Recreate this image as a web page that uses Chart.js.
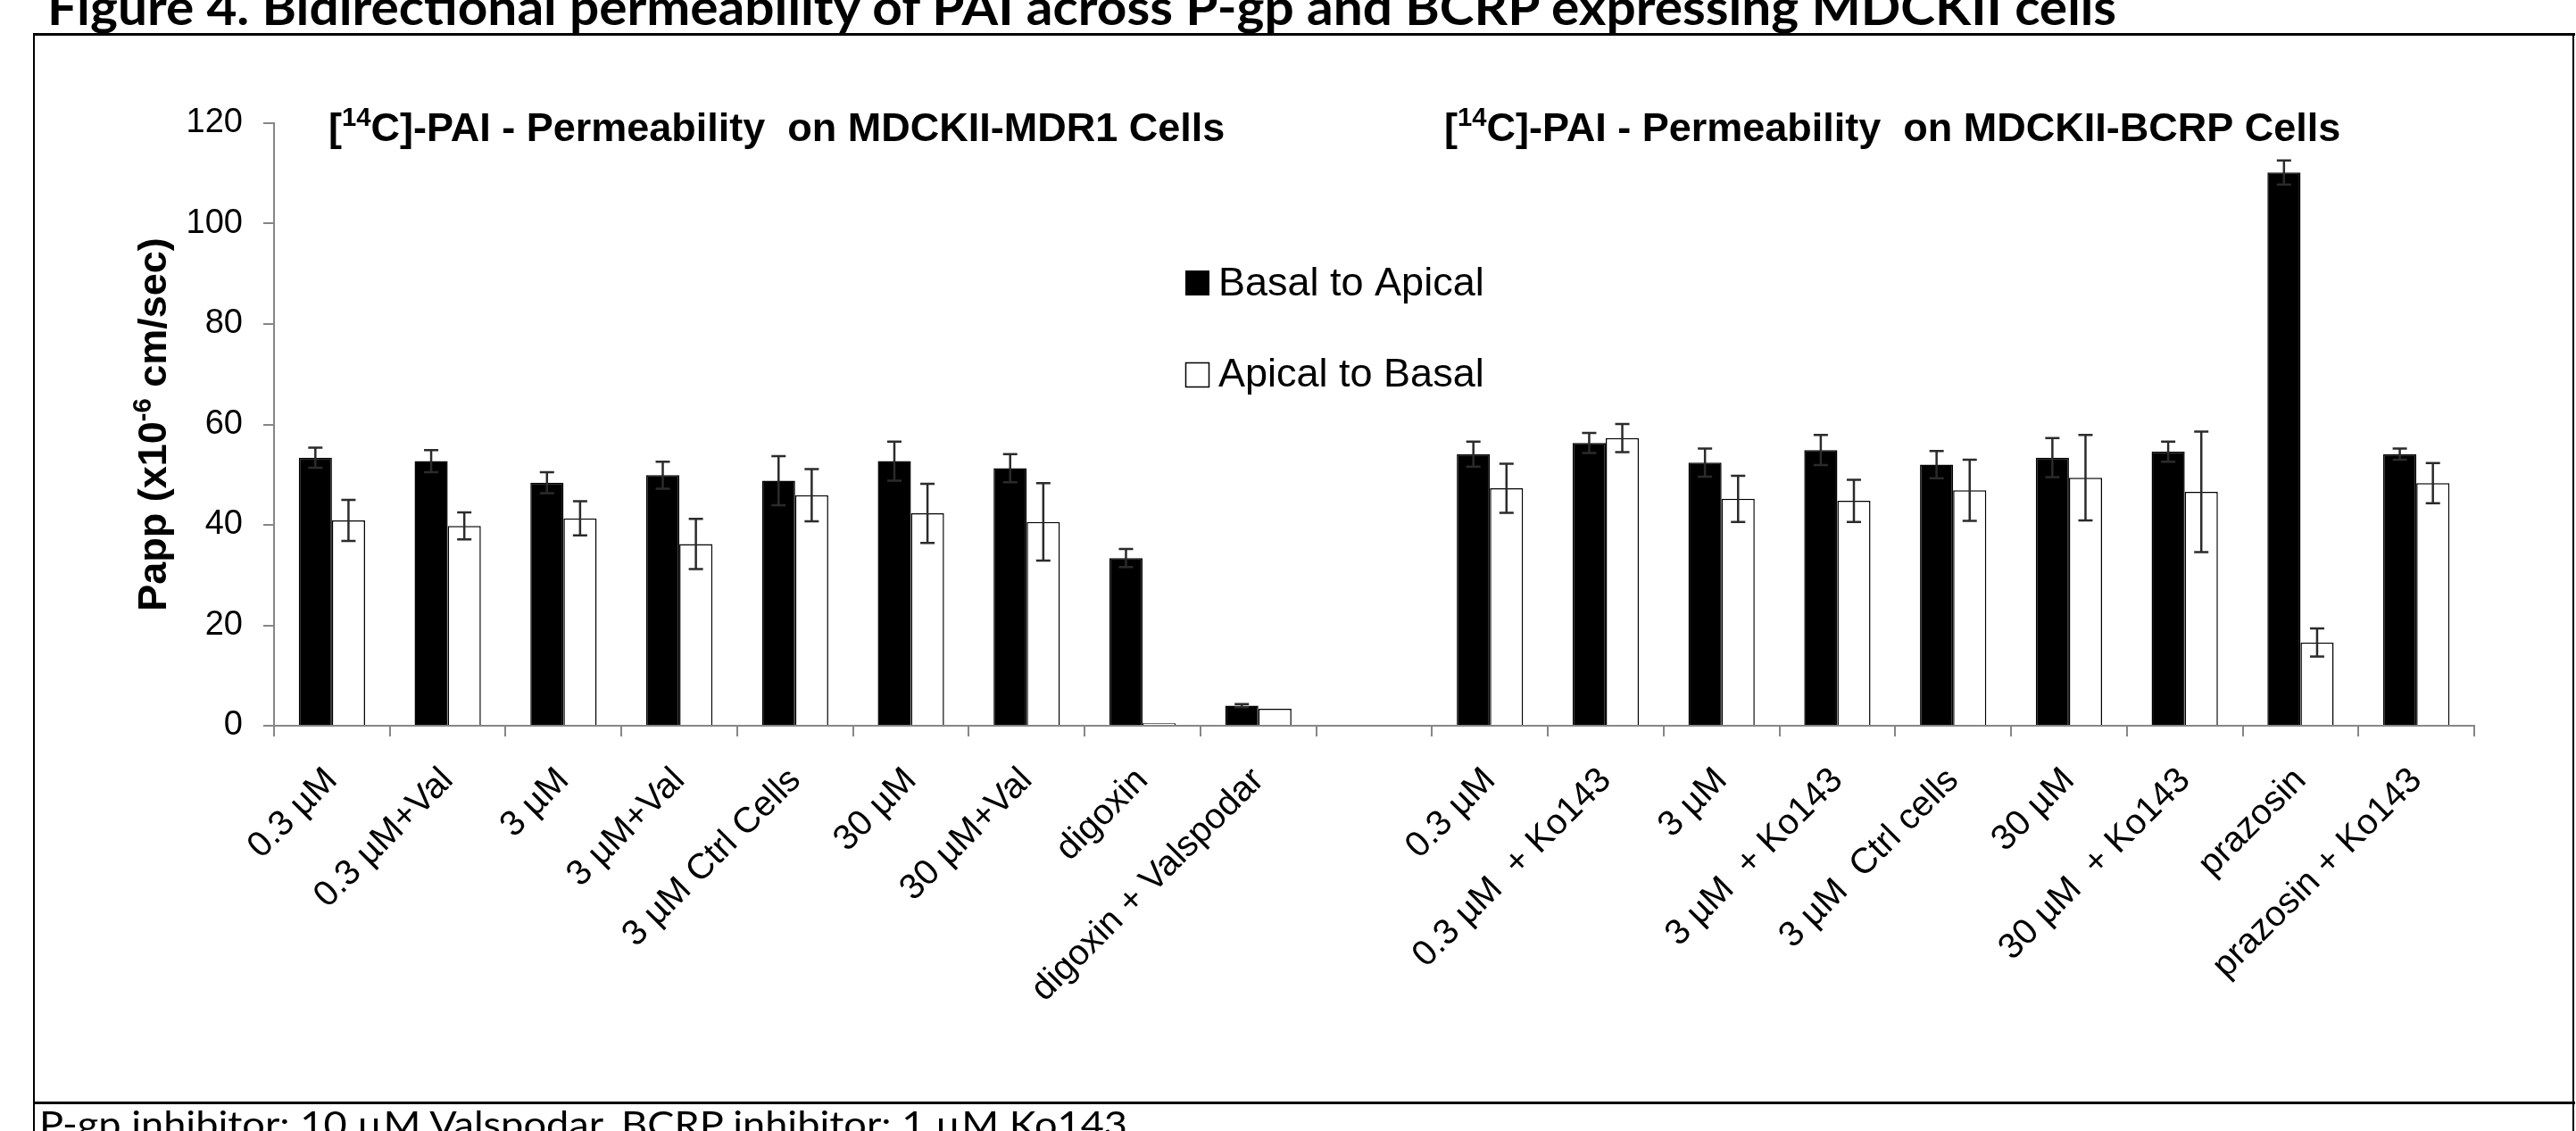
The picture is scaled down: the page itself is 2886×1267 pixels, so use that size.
<!DOCTYPE html>
<html>
<head>
<meta charset="utf-8">
<script src="https://cdn.jsdelivr.net/npm/chart.js@4.4.1/dist/chart.umd.min.js"></script>
<style>
html,body{margin:0;padding:0;background:#fff;}
#wrap{position:relative;width:2886px;height:1267px;overflow:hidden;background:#fff;}
#c{position:absolute;left:0;top:0;}
.ln{position:absolute;background:#000;}
.txt{position:absolute;white-space:pre;transform-origin:0 0;color:#000;line-height:normal;}
#title{font-family:Lato,"Open Sans",sans-serif;font-weight:bold;font-size:56px;}
#foot{font-family:Lato,"Open Sans",sans-serif;font-weight:normal;font-size:41px;}
.probe{display:inline-block;width:0;height:0;vertical-align:baseline;}
</style>
</head>
<body>
<div id="wrap">
  <canvas id="c" width="2886" height="1267"></canvas>
  <div class="ln" style="left:37px;top:37px;width:2848px;height:3px"></div>
  <div class="ln" style="left:37px;top:37px;width:2px;height:1230px"></div>
  <div class="ln" style="left:2882px;top:37px;width:2px;height:1230px"></div>
  <div class="ln" style="left:37px;top:1234px;width:2848px;height:3px"></div>
  <div id="title" class="txt"><span id="titleText">Figure 4. Bidirectional permeability of PAI across P-gp and BCRP expressing MDCKII cells</span><span class="probe" id="titleProbe"></span></div>
  <div id="foot" class="txt"><span id="footText">P-gp inhibitor: 10 µM Valspodar, BCRP inhibitor: 1 µM Ko143</span><span class="probe" id="footProbe"></span></div>
</div>
<script>
// ---- data ----
const categories = ["0.3 µM","0.3 µM+Val","3 µM","3 µM+Val","3 µM Ctrl Cells","30 µM","30 µM+Val","digoxin","digoxin + Valspodar","",
  "0.3 µM","0.3 µM  + Ko143","3 µM","3 µM  + Ko143","3 µM  Ctrl cells","30 µM","30 µM  + Ko143","prazosin","prazosin + Ko143"];
const basalToApical    = [53.4,52.7,48.4,49.9,48.8,52.7,51.3,33.4,4.0,null,54.1,56.3,52.4,54.9,52.0,53.4,54.6,110.2,54.1];
const basalToApicalErr = [2.0,2.2,2.1,2.7,4.9,3.9,2.8,1.8,0.3,null,2.5,2.0,2.8,3.0,2.7,3.9,2.0,2.4,1.1];
const apicalToBasal    = [40.9,39.8,41.3,36.2,45.9,42.3,40.6,0.5,3.4,null,47.3,57.3,45.2,44.8,46.9,49.4,46.6,16.6,48.3];
const apicalToBasalErr = [4.1,2.7,3.4,5.0,5.2,5.9,7.7,0,0,null,4.9,2.8,4.6,4.2,6.1,8.5,12.0,2.8,4.0];
const yTicks = [0,20,40,60,80,100,120];
const seriesNames = ["Basal to Apical","Apical to Basal"];
const panelTitles = [
  [["[",false],["14",true],["C]-PAI - Permeability  on MDCKII-MDR1 Cells",false]],
  [["[",false],["14",true],["C]-PAI - Permeability  on MDCKII-BCRP Cells",false]]
];
const yTitle = [["Papp (x10",false],["-6",true],[" cm/sec)",false]];

// ---- HTML text placement ----
function place(divId, textId, probeId, left, baseline, width){
  const d=document.getElementById(divId);
  d.style.left=left+'px'; d.style.top='0px';
  const w=document.getElementById(textId).getBoundingClientRect().width;
  const b=document.getElementById(probeId).offsetTop;
  d.style.top=(baseline-b)+'px';
  d.style.transform='scaleX('+(width/w)+')';
}

const FONT='"Liberation Sans", Arial, sans-serif';
function richWidth(ctx, parts, size, bold){
  let w=0;
  for(const [t,sup] of parts){
    ctx.font=(bold?'bold ':'')+(sup?size*0.65:size)+'px '+FONT;
    w+=ctx.measureText(t).width;
  }
  return w;
}
function drawRich(ctx, parts, x, y, size, bold){
  ctx.textBaseline='alphabetic'; ctx.textAlign='left';
  for(const [t,sup] of parts){
    ctx.font=(bold?'bold ':'')+(sup?size*0.65:size)+'px '+FONT;
    ctx.fillText(t, x, sup? y-size*0.38 : y);
    x+=ctx.measureText(t).width;
  }
}

const deco={
  id:'deco',
  afterDatasetsDraw(chart){
    const ctx=chart.ctx, ys=chart.scales.y;
    const sets=[[0,basalToApical,basalToApicalErr],[1,apicalToBasal,apicalToBasalErr]];
    ctx.save();
    ctx.strokeStyle='#2b2b2b'; ctx.lineWidth=2.5;
    for(const [di,vals,errs] of sets){
      const meta=chart.getDatasetMeta(di);
      meta.data.forEach((bar,i)=>{
        const v=vals[i], e=errs[i];
        if(v==null||!e) return;
        const x=bar.x, yt=ys.getPixelForValue(v+e), yb=ys.getPixelForValue(Math.max(0,v-e));
        ctx.beginPath();
        ctx.moveTo(x,yt); ctx.lineTo(x,yb);
        ctx.moveTo(x-8,yt); ctx.lineTo(x+8,yt);
        ctx.moveTo(x-8,yb); ctx.lineTo(x+8,yb);
        ctx.stroke();
      });
    }
    ctx.restore();
  },
  afterDraw(chart){
    const ctx=chart.ctx;
    ctx.save();
    ctx.fillStyle='#000';
    // panel titles
    drawRich(ctx, panelTitles[0], 368, 158, 45, true);
    drawRich(ctx, panelTitles[1], 1618, 158, 45, true);
    // legend
    ctx.fillStyle='#000';
    ctx.fillRect(1328,303,27,28);
    ctx.fillStyle='#fff'; ctx.fillRect(1328,406,27,28);
    ctx.strokeStyle='#000'; ctx.lineWidth=1.5; ctx.strokeRect(1328.5,406.5,26,27);
    ctx.fillStyle='#000';
    ctx.font='45px '+FONT; ctx.textBaseline='alphabetic'; ctx.textAlign='left';
    ctx.fillText(seriesNames[0],1365,331);
    ctx.fillText(seriesNames[1],1365,433);
    // y title
    const w=richWidth(ctx,yTitle,45,true);
    ctx.translate(186,(chart.chartArea.top+chart.chartArea.bottom)/2);
    ctx.rotate(-Math.PI/2);
    drawRich(ctx,yTitle,-w/2,0,45,true);
    ctx.restore();
  }
};

const chart=new Chart(document.getElementById('c'),{
  type:'bar',
  data:{
    labels:categories,
    datasets:[
      {label:seriesNames[0],data:basalToApical,backgroundColor:'#000',borderColor:'#000',borderWidth:1.5},
      {label:seriesNames[1],data:apicalToBasal,backgroundColor:'#fff',borderColor:'#000',borderWidth:1.5}
    ]
  },
  options:{
    responsive:false,animation:false,
    layout:{padding:{left:0,top:138,right:114,bottom:0}},
    datasets:{bar:{barPercentage:1.0,categoryPercentage:0.572,grouped:true}},
    plugins:{legend:{display:false},tooltip:{enabled:false},title:{display:false}},
    scales:{
      x:{
        type:'category',
        offset:true,
        grid:{display:true,drawOnChartArea:false,drawTicks:true,tickLength:12,color:'#868686',lineWidth:2,offset:true},
        border:{display:true,color:'#868686',width:2},
        ticks:{autoSkip:false,minRotation:45,maxRotation:45,padding:26,color:'#000',font:{family:FONT,size:40}},
        afterFit(s){s.height=454;}
      },
      y:{
        min:0,max:120,
        grid:{display:true,drawOnChartArea:false,drawTicks:true,tickLength:12,color:'#868686',lineWidth:2},
        border:{display:true,color:'#868686',width:2},
        ticks:{stepSize:20,padding:23,color:'#000',font:{family:FONT,size:38},
          callback:(v)=>yTicks.includes(v)?String(v):''},
        afterFit(s){s.width=307;}
      }
    }
  },
  plugins:[deco]
});

place('title','titleText','titleProbe',53,28,2318);
place('foot','footText','footProbe',44,1274,1219);
</script>
</body>
</html>
